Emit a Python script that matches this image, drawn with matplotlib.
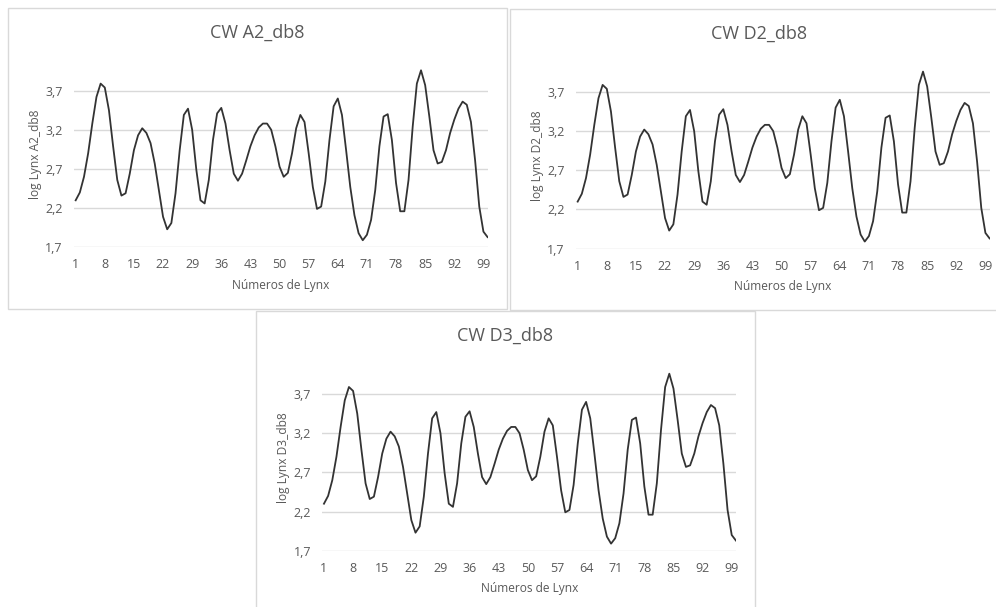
import matplotlib.pyplot as plt
from matplotlib.patches import Rectangle

# log10 lynx, wavelet-smoothed (db8)
x = list(range(1, 101))
log_lynx = [
    2.30, 2.40, 2.60, 2.90, 3.28, 3.62, 3.79, 3.74, 3.45, 2.99,
    2.56, 2.36, 2.39, 2.64, 2.94, 3.13, 3.22, 3.16, 3.03, 2.77,
    2.43, 2.09, 1.93, 2.01, 2.39, 2.94, 3.39, 3.47, 3.20, 2.69,
    2.30, 2.26, 2.56, 3.07, 3.41, 3.48, 3.28, 2.94, 2.64, 2.55,
    2.64, 2.81, 2.99, 3.13, 3.23, 3.28, 3.28, 3.20, 2.99, 2.73,
    2.60, 2.65, 2.90, 3.22, 3.39, 3.30, 2.90, 2.47, 2.19, 2.22,
    2.54, 3.07, 3.50, 3.60, 3.39, 2.94, 2.47, 2.11, 1.88, 1.79,
    1.86, 2.05, 2.43, 2.99, 3.37, 3.40, 3.07, 2.52, 2.16, 2.16,
    2.56, 3.24, 3.79, 3.96, 3.77, 3.37, 2.94, 2.77, 2.79, 2.94,
    3.16, 3.33, 3.47, 3.56, 3.52, 3.30, 2.81, 2.22, 1.90, 1.83,
]
titles = ["CW A2_db8", "CW D2_db8", "CW D3_db8"]
ylabels = ["log Lynx A2_db8", "log Lynx D2_db8", "log Lynx D3_db8"]
xticks = list(range(1, 100, 7))
yticks = [1.7, 2.2, 2.7, 3.2, 3.7]

W, H = 996, 607
offsets = [(0, 0), (502, 1.3), (248.3, 303.4)]
TXT = "#595959"
GRID = "#d9d9d9"

plt.rcParams['font.family'] = ['Open Sans', 'DejaVu Sans']
fig = plt.figure(figsize=(W / 100, H / 100), dpi=100)


def fx(px):
    return px / W


def fy(py):
    return 1 - py / H


for k, (dx, dy) in enumerate(offsets):
    # chart border
    fig.patches.append(Rectangle((fx(8 + dx), fy(309 + dy)), 499 / W, 301 / H,
                                 transform=fig.transFigure, fill=True,
                                 facecolor="white", edgecolor=GRID, lw=1.0,
                                 zorder=-1 + k))
    left, right = 74 + dx, 488 + dx
    top, bottom = 51.5 + dy, 247.3 + dy
    ax = fig.add_axes([fx(left), fy(bottom), (right - left) / W, (bottom - top) / H],
                      zorder=k)
    ax.patch.set_alpha(0)
    ax.plot(x, log_lynx, color="#333333", lw=1.3)
    ax.set_xlim(0.6, 100.1)
    ax.set_ylim(1.7, 4.2)
    ax.set_xticks(xticks)
    ax.set_yticks(yticks)
    ax.set_yticklabels([f"{v:.1f}".replace(".", ",") for v in yticks])
    ax.tick_params(length=0, labelsize=9, labelcolor=TXT)
    ax.tick_params(axis="y", pad=8)
    ax.tick_params(axis="x", pad=8)
    ax.grid(axis="y", color=GRID, lw=1.0)
    ax.set_axisbelow(True)
    for s in ax.spines.values():
        s.set_visible(False)
    fig.text(fx(257 + dx), fy(32.3 + dy), titles[k], ha="center", va="center",
             fontsize=13, color=TXT)
    fig.text(fx(281 + dx), fy(285 + dy), "Números de Lynx", ha="center",
             va="center", fontsize=8.6, color=TXT)
    fig.text(fx(35 + dx), fy(154 + dy), ylabels[k], ha="center", va="center",
             rotation=90, fontsize=8.6, color=TXT)

fig.savefig("out.png", dpi=100)
